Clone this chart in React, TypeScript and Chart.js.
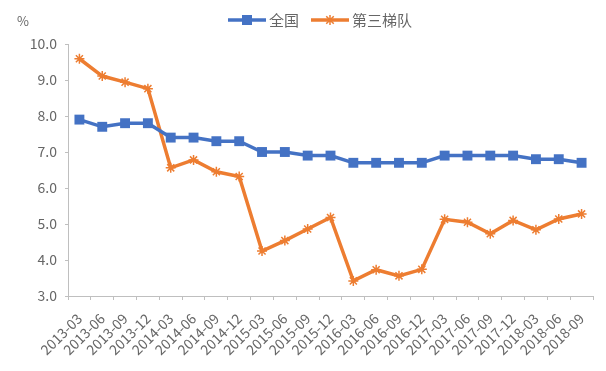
import React, { useEffect, useRef } from "react";
import { Chart, registerables } from "chart.js";

Chart.register(...registerables);

const categories = [
  "2013-03", "2013-06", "2013-09", "2013-12",
  "2014-03", "2014-06", "2014-09", "2014-12",
  "2015-03", "2015-06", "2015-09", "2015-12",
  "2016-03", "2016-06", "2016-09", "2016-12",
  "2017-03", "2017-06", "2017-09", "2017-12",
  "2018-03", "2018-06", "2018-09",
];

const nationalValues = [
  7.9, 7.7, 7.8, 7.8,
  7.4, 7.4, 7.3, 7.3,
  7.0, 7.0, 6.9, 6.9,
  6.7, 6.7, 6.7, 6.7,
  6.9, 6.9, 6.9, 6.9,
  6.8, 6.8, 6.7,
];

const thirdTierValues = [
  9.59, 9.11, 8.94, 8.76,
  6.56, 6.78, 6.45, 6.32,
  4.25, 4.54, 4.86, 5.18,
  3.42, 3.73, 3.56, 3.74,
  5.13, 5.05, 4.73, 5.1,
  4.84, 5.14, 5.28,
];

const seriesNames = ["全国", "第三梯队"];
const yTicks = { min: 3, max: 10, step: 1 };
const unitLabel = "%";

const BLUE = "#4472C4";
const ORANGE = "#ED7D31";
const TEXT = "#666666";
const AXIS = "#BFBFBF";
const FONT = "'Noto Sans CJK SC', 'Noto Sans', sans-serif";

function drawStar(ctx: CanvasRenderingContext2D, cx: number, cy: number, r: number) {
  const d = r * 0.75;
  ctx.beginPath();
  ctx.moveTo(cx - d, cy - d);
  ctx.lineTo(cx + d, cy + d);
  ctx.moveTo(cx + d, cy - d);
  ctx.lineTo(cx - d, cy + d);
  ctx.moveTo(cx, cy - r);
  ctx.lineTo(cx, cy + r);
  ctx.stroke();
}

// Legend + unit label, drawn as text on the canvas
const legendPlugin = {
  id: "excelLegend",
  afterDraw(chart: any) {
    const ctx: CanvasRenderingContext2D = chart.ctx;
    const sets = chart.data.datasets;
    ctx.save();
    ctx.font = `13px ${FONT}`;
    ctx.fillStyle = TEXT;
    ctx.textAlign = "left";
    ctx.textBaseline = "middle";
    ctx.fillText(unitLabel, 17, 21);

    const y = 20;
    const lineW = 38;
    const gap = 3;
    const itemGap = 12;
    ctx.font = `15px ${FONT}`;
    const widths = sets.map((ds: any) => lineW + gap + ctx.measureText(ds.label).width);
    const total = widths.reduce((a: number, b: number) => a + b, 0) + itemGap * (sets.length - 1);
    let x = 320 - total / 2;
    sets.forEach((ds: any, i: number) => {
      ctx.strokeStyle = ds.borderColor;
      ctx.lineWidth = 3.5;
      ctx.beginPath();
      ctx.moveTo(x, y);
      ctx.lineTo(x + lineW, y);
      ctx.stroke();
      const cx = x + lineW / 2;
      if (i === 0) {
        ctx.fillStyle = ds.borderColor;
        ctx.fillRect(cx - 5, y - 5, 10, 10);
      } else {
        ctx.lineWidth = 1.5;
        drawStar(ctx, cx, y, 5);
      }
      ctx.fillStyle = TEXT;
      ctx.fillText(ds.label, x + lineW + gap, y);
      x += widths[i] + itemGap;
    });
    ctx.restore();
  },
};

export default function App() {
  const ref = useRef<HTMLCanvasElement | null>(null);

  useEffect(() => {
    if (!ref.current) return;
    const chart = new Chart(ref.current, {
      type: "line",
      data: {
        labels: categories,
        datasets: [
          {
            label: seriesNames[0],
            data: nationalValues,
            borderColor: BLUE,
            backgroundColor: BLUE,
            borderWidth: 3.5,
            pointStyle: "rect",
            pointRadius: 7,
            pointBorderWidth: 0,
            pointBackgroundColor: BLUE,
            tension: 0,
          },
          {
            label: seriesNames[1],
            data: thirdTierValues,
            borderColor: ORANGE,
            backgroundColor: ORANGE,
            borderWidth: 3.5,
            pointStyle: "star",
            pointRadius: 5,
            pointBorderWidth: 1.5,
            pointBorderColor: ORANGE,
            tension: 0,
          },
        ],
      },
      options: {
        animation: false,
        responsive: false,
        layout: { padding: { left: 0, right: 13, top: 44, bottom: 0 } },
        plugins: {
          tooltip: { enabled: false },
          legend: { display: false },
        },
        scales: {
          x: {
            offset: true,
            grid: {
              display: true,
              offset: true,
              drawOnChartArea: false,
              drawTicks: true,
              tickLength: 4,
              color: AXIS,
            },
            border: { display: true, color: AXIS, width: 1 },
            ticks: {
              autoSkip: false,
              minRotation: 45,
              maxRotation: 45,
              color: TEXT,
              font: { size: 14, family: FONT },
              padding: 10,
            },
            afterFit: (scale: any) => {
              scale.height = 75;
            },
          },
          y: {
            min: yTicks.min,
            max: yTicks.max,
            grid: {
              display: true,
              drawOnChartArea: false,
              drawTicks: true,
              tickLength: 3,
              color: AXIS,
            },
            border: { display: true, color: AXIS, width: 1 },
            ticks: {
              stepSize: yTicks.step,
              color: TEXT,
              font: { size: 14, family: FONT },
              padding: 8,
              callback: (v: any) => Number(v).toFixed(1),
            },
            afterFit: (scale: any) => {
              scale.width = 68;
            },
          },
        },
      },
      plugins: [legendPlugin],
    });
    return () => chart.destroy();
  }, []);

  return (
    <div style={{ position: "absolute", left: 0, top: 0, width: 606, height: 371, background: "#fff" }}>
      <canvas ref={ref} width={606} height={371} />
    </div>
  );
}
